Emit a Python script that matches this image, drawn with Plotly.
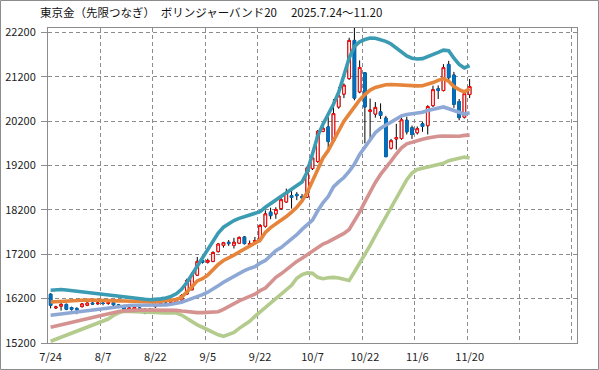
import plotly.graph_objects as go

# ---- data ----
tick_labels = ["7/24", "8/7", "8/22", "9/5", "9/22", "10/7", "10/22", "11/6", "11/20"]

open_ = [16300, 15990, 16030, 16070, 16000, 15980, 16020, 16050, 16100, 16085,
         16100, 16090, 16110, 16060, 16040, 15950, 15960, 15990, 15960, 15890,
         16020, 16060, 16100, 16080, 16120, 16170, 16300, 16400, 16730, 17060,
         17020, 17040, 17260, 17400, 17470, 17400, 17450, 17590, 17420, 17490,
         17530, 17830, 18150, 18110, 18230, 18380, 18520, 18550, 18500, 18490,
         19130, 19290, 19970, 20070, 19760, 20520, 20810, 21160, 22020, 20860,
         21290, 20420, 20360, 20410, 20270, 19590, 19800, 19810, 20220, 20050,
         19940, 20140, 20100, 20550, 20930, 20890, 21480, 21240, 20640, 20290,
         20800]
high = [16320, 16040, 16100, 16090, 16020, 16000, 16100, 16110, 16120, 16140,
        16130, 16150, 16130, 16080, 16060, 16020, 16030, 16010, 15980, 15990,
        16090, 16130, 16140, 16160, 16220, 16300, 16650, 16800, 17140, 17140,
        17100, 17270, 17450, 17480, 17520, 17570, 17600, 17610, 17510, 17590,
        17880, 18190, 18250, 18260, 18470, 18680, 18670, 18600, 18560, 19200,
        19470, 20000, 20130, 20290, 20700, 20970, 21050, 22080, 22400, 21570,
        21300, 20710, 20630, 20600, 20320, 19800, 20140, 20330, 20300, 20100,
        20080, 20180, 20560, 21000, 21005, 21485, 21560, 21310, 20700, 20850,
        21150]
low = [15980, 15970, 15930, 15940, 15930, 15850, 16000, 16030, 16060, 16060,
       16050, 16060, 16030, 15990, 15930, 15920, 15940, 15920, 15850, 15870,
       15990, 16030, 16050, 16060, 16100, 16150, 16280, 16390, 16720, 16990,
       16990, 17020, 17240, 17350, 17390, 17330, 17430, 17420, 17350, 17450,
       17470, 17800, 17990, 18000, 18200, 18360, 18230, 18420, 18400, 18470,
       19100, 19260, 19950, 19590, 19740, 20480, 20720, 21130, 20670, 20830,
       19700, 19770, 20280, 20250, 19390, 19560, 19560, 19780, 19900, 19800,
       19900, 19960, 19900, 20520, 20700, 20870, 21130, 20500, 20220, 20260,
       20720]
close = [16050, 16010, 16070, 15960, 15960, 15950, 16080, 16100, 16080, 16100,
         16090, 16110, 16060, 16030, 15950, 15990, 16000, 15950, 15880, 15960,
         16060, 16100, 16080, 16120, 16180, 16270, 16610, 16750, 17040, 17020,
         17060, 17240, 17430, 17460, 17440, 17470, 17580, 17440, 17440, 17510,
         17850, 18110, 18070, 18210, 18430, 18590, 18480, 18520, 18470, 19150,
         19370, 19970, 20040, 19740, 20370, 20770, 21010, 22020, 20720, 21410,
         20520, 20450, 20510, 20330, 19400, 19760, 19830, 20230, 19960, 19900,
         20030, 20080, 20530, 20910, 20890, 21406, 21180, 20580, 20280, 20820,
         20980]

band_p1 = [16390, 16400, 16405, 16395, 16380, 16365, 16350, 16335, 16320, 16305,
           16295, 16285, 16275, 16260, 16245, 16230, 16215, 16200, 16185, 16175,
           16180, 16195, 16215, 16250, 16310, 16410, 16560, 16750, 16930, 17100,
           17290, 17490, 17680, 17810, 17890, 17960, 18010, 18045, 18070, 18105,
           18160, 18260, 18340, 18420, 18500, 18580, 18660, 18740, 18830, 19060,
           19500, 19870, 20130, 20350, 20580, 20850, 21250, 21620, 21880, 21990,
           22040, 22075, 22070, 22040, 22000, 21940, 21850, 21750, 21670, 21620,
           21600, 21610, 21650, 21690, 21750, 21800, 21790, 21620, 21480, 21400,
           21450]
ma20 = [16125, 16135, 16145, 16150, 16155, 16160, 16165, 16170, 16170, 16170,
        16165, 16160, 16155, 16150, 16145, 16140, 16135, 16130, 16125, 16125,
        16130, 16140, 16150, 16160, 16180, 16230, 16340, 16470, 16600, 16650,
        16730, 16850, 16970, 17060, 17110, 17180, 17250, 17310, 17370, 17450,
        17520, 17690, 17800, 17880, 17960, 18050, 18150, 18260, 18400, 18600,
        18850, 19120, 19370, 19540, 19760, 19980, 20200, 20360, 20520, 20680,
        20800, 20900, 20960, 21000, 21020, 21025, 21015, 21005, 21000, 20995,
        20995, 21000, 21030, 21070, 21120, 21160, 21100, 20980, 20910, 20860,
        20930]
band_m1 = [15825, 15840, 15855, 15870, 15890, 15905, 15925, 15945, 15960, 15975,
           15990, 16005, 16020, 16030, 16040, 16045, 16050, 16050, 16050, 16045,
           16045, 16050, 16060, 16075, 16095, 16120, 16160, 16200, 16240, 16290,
           16345, 16410, 16490, 16570, 16640, 16710, 16770, 16830, 16880, 16920,
           17000, 17060, 17170, 17280, 17350, 17440, 17550, 17640, 17760, 17860,
           17970, 18180, 18360, 18500, 18720, 18830, 18930, 19070, 19230, 19450,
           19610, 19800, 19940, 20040, 20110, 20190, 20260, 20320, 20350, 20360,
           20370, 20400, 20440, 20470, 20500, 20520, 20480, 20440, 20390, 20360,
           20390]
band_m2 = [15555, 15580, 15610, 15640, 15670, 15700, 15725, 15750, 15775, 15805,
           15835, 15860, 15885, 15910, 15925, 15935, 15940, 15940, 15940, 15940,
           15945, 15950, 15950, 15945, 15935, 15920, 15905, 15890, 15885, 15885,
           15885, 15890, 15905, 15960, 16030, 16090, 16150, 16200, 16250, 16300,
           16380, 16440, 16560, 16680, 16760, 16860, 16950, 17040, 17110, 17190,
           17270, 17350, 17430, 17480, 17540, 17600, 17670, 17760, 17950, 18150,
           18380, 18620, 18820, 19000, 19140, 19300, 19460, 19600, 19690, 19730,
           19760, 19790, 19820, 19845, 19860, 19865, 19860, 19850, 19860, 19880,
           19885]
band_m3 = [15240, 15285, 15330, 15380, 15420, 15460, 15505, 15550, 15595, 15640,
           15690, 15740, 15820, 15880, 15915, 15910, 15900, 15890, 15875, 15870,
           15870, 15875, 15875, 15875, 15875, 15830, 15750, 15680, 15610, 15555,
           15495, 15430, 15385, 15350, 15385, 15440, 15530, 15610, 15690, 15800,
           15900, 16010, 16100, 16200, 16300, 16400, 16500, 16660, 16740, 16780,
           16770, 16680, 16650, 16670, 16680, 16665, 16640, 16610, 16800, 17000,
           17170, 17400, 17620, 17830, 18030, 18230, 18430, 18650, 18880, 19030,
           19110, 19140, 19170, 19210, 19240, 19250, 19310, 19340, 19350, 19390,
           19370]

# ---- figure ----
n = len(close)
xs = list(range(n))
body_hi = [max(o, c) for o, c in zip(open_, close)]
body_lo = [min(o, c) for o, c in zip(open_, close)]

UP = "#FF0000"
DOWN = "#0070C0"
GRID = "#8C8C8C"

fig = go.Figure()
# wicks (black)
fig.add_trace(go.Candlestick(
    x=xs, open=open_, high=high, low=low, close=close,
    increasing=dict(line=dict(color="#000000", width=1), fillcolor="#FFFFFF"),
    decreasing=dict(line=dict(color="#000000", width=1), fillcolor="#000000"),
    whiskerwidth=0, showlegend=False, hoverinfo="skip"))
# bodies
fig.add_trace(go.Candlestick(
    x=xs, open=open_, high=body_hi, low=body_lo, close=close,
    increasing=dict(line=dict(color=UP, width=1), fillcolor="#FFFFFF"),
    decreasing=dict(line=dict(color=DOWN, width=1), fillcolor=DOWN),
    whiskerwidth=0, showlegend=False))

lines = [
    (band_m3, "#B3CB8C"),
    (band_m2, "#D49290"),
    (band_m1, "#8EA8D6"),
    (ma20, "#E5843A"),
    (band_p1, "#3B9BB3"),
]
for ys, col in lines:
    fig.add_trace(go.Scatter(x=xs, y=ys, mode="lines",
                             line=dict(color=col, width=3.6),
                             showlegend=False, hoverinfo="skip"))

L, R, T, B = 48, 22, 28, 27
W, H = 599, 370
pw, ph = W - L - R, H - T - B

fig.update_layout(
    width=W, height=H,
    margin=dict(l=L, r=R, t=T, b=B, pad=0, autoexpand=False),
    paper_bgcolor="white", plot_bgcolor="white",
    showlegend=False,
    boxgap=0.3,
    font=dict(family="Noto Sans CJK JP, Noto Sans, sans-serif", size=11, color="#222222"),
    title=dict(text="東京金（先限つなぎ）　ボリンジャーバンド20　 2025.7.24～11.20",
               x=40 / W, xref="container", xanchor="left",
               y=1 - 13 / H, yref="container", yanchor="middle",
               font=dict(size=11.5, color="#111111")),
    xaxis=dict(
        range=[-0.5, n - 1 + 20.5], rangeslider=dict(visible=False),
        automargin=False,
        tickmode="array", tickvals=[i * 10 for i in range(len(tick_labels))],
        ticktext=tick_labels, ticks="", showgrid=False, zeroline=False,
        showline=True, linecolor=GRID, linewidth=1, mirror=True,
        ticklabelstandoff=4,
        minor=dict(tick0=9.5, dtick=10, showgrid=True, gridcolor=GRID,
                   griddash="4px,3px", gridwidth=1, ticks=""),
    ),
    yaxis=dict(
        range=[15200, 22300], tickmode="array",
        tickvals=list(range(15200, 22201, 1000)), tickformat="d",
        automargin=False,
        ticks="outside", ticklen=6, tickcolor=GRID,
        showgrid=True, gridcolor=GRID, griddash="4px,3px", gridwidth=1,
        zeroline=False, showline=True, linecolor=GRID, linewidth=1, mirror=True,
        ticklabelstandoff=3,
    ),
    shapes=[dict(type="rect", xref="paper", yref="paper",
                 x0=(0.5 - L) / pw, x1=(W - 0.5 - L) / pw,
                 y0=-(B - 0.5) / ph, y1=1 + (T - 0.5) / ph,
                 line=dict(color="#8C8C8C", width=1), fillcolor="rgba(0,0,0,0)")],
)

fig.write_html("out.html",
               config={"displayModeBar": False},
               post_script="document.body.style.margin='0px';document.body.style.overflow='hidden';")
